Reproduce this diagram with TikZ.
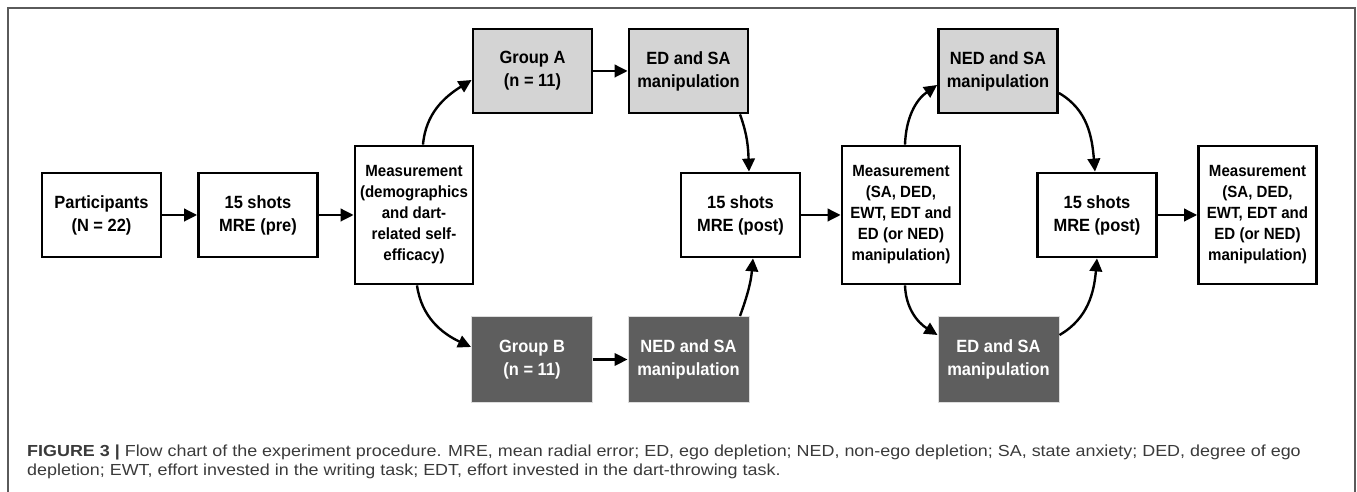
\documentclass[tikz,border=0pt]{standalone}
\usepackage{fontspec}
\setmainfont{Liberation Sans}
\newfontfamily\boxfont{Liberation Sans}[FakeStretch=0.93]
\newfontfamily\capfont{Liberation Sans}[FakeStretch=1.12]
\usetikzlibrary{arrows.meta}
\definecolor{lightbox}{HTML}{D4D4D4}
\definecolor{darkbox}{HTML}{5E5E5E}
\definecolor{framegray}{HTML}{5A5A5A}
\definecolor{captext}{HTML}{3A3A3A}
\tikzset{
  base/.style={draw=black, line width=2.8pt, align=center, inner sep=0pt,
    font=\boxfont\bfseries\fontsize{17.7}{23}\selectfont, text=black,
    minimum width=119pt, minimum height=84pt},
  plain/.style={base, fill=white},
  lightb/.style={base, fill=lightbox},
  darkb/.style={base, fill=darkbox, draw=lightbox!80!white, line width=1pt, text=white,
    minimum width=121pt, minimum height=86pt},
  meas/.style={base, fill=white, minimum height=138pt, minimum width=118pt,
    font=\boxfont\bfseries\fontsize{16.2}{21}\selectfont},
  conn/.style={line width=2.4pt, -{Triangle[length=13pt,width=12.5pt]}},
  captxt/.style={anchor=base west, inner sep=0pt, text=captext, font=\capfont\fontsize{16}{19}\selectfont},
}
\begin{document}
\begin{tikzpicture}[x=1pt,y=1pt]
\useasboundingbox (0,0) rectangle (1357,492);
% frame
\draw[framegray, line width=1.3pt] (8,-2) -- (8,484) -- (1355,484) -- (1355,-2);

\node[plain] (P) at (101.5,277) {Participants\\(N = 22)};
\node[plain] (pre) at (258,277) {15 shots\\MRE (pre)};
\node[meas] (M1) at (414,277) {Measurement\\(demographics\\and dart-\\related self-\\efficacy)};
\node[lightb] (GA) at (532.5,421) {Group A\\(n = 11)};
\node[lightb] (EDA) at (688.5,421) {ED and SA\\manipulation};
\node[darkb] (GB) at (532,132.5) {Group B\\(n = 11)};
\node[darkb] (NEDB) at (688.5,132.5) {NED and SA\\manipulation};
\node[plain] (post1) at (740.5,277) {15 shots\\MRE (post)};
\node[meas] (M2) at (901,277) {Measurement\\(SA, DED,\\EWT, EDT and\\ED (or NED)\\manipulation)};
\node[lightb] (NEDA) at (998,421) {NED and SA\\manipulation};
\node[darkb] (EDB) at (998.5,132.5) {ED and SA\\manipulation};
\node[plain] (post2) at (1097,277) {15 shots\\MRE (post)};
\node[meas] (M3) at (1257.5,277) {Measurement\\(SA, DED,\\EWT, EDT and\\ED (or NED)\\manipulation)};

\draw[conn] (P) -- (pre);
\draw[conn] (pre) -- (M1);
\draw[conn] ([xshift=9pt]M1.north) to[out=85,in=212] ([yshift=-9pt]GA.west);
\draw[conn] ([xshift=3pt]M1.south) to[out=-82,in=155] ([yshift=12.5pt]GB.west);
\draw[conn] (GA) -- (EDA);
\draw[conn] (GB) -- (NEDB);
\draw[conn] ([xshift=51.5pt]EDA.south) to[out=-70,in=92] ([xshift=8.5pt]post1.north);
\draw[conn] ([xshift=51.5pt]NEDB.north) to[out=70,in=-95] ([xshift=12.5pt]post1.south);
\draw[conn] (post1) -- (M2);
\draw[conn] ([xshift=4pt]M2.north) to[out=88,in=215] ([yshift=-14pt]NEDA.west);
\draw[conn] ([xshift=4pt]M2.south) to[out=-88,in=148] ([yshift=24.5pt]EDB.west);
\draw[conn] ([yshift=-22pt]NEDA.east) to[out=-30,in=95] ([xshift=-2pt]post2.north);
\draw[conn] ([yshift=24.5pt]EDB.east) to[out=30,in=-95] (post2.south);
\draw[conn] (post2) -- (M3);

\node[captxt] (cap1) at (27,35)
  {\textbf{FIGURE 3} \textbf{|} Flow chart of the experiment procedure. MRE, mean radial error; ED, ego depletion; NED, non-ego depletion; SA, state anxiety; DED, degree of ego};
\node[captxt] (cap2) at (27,16)
  {depletion; EWT, effort invested in the writing task; EDT, effort invested in the dart-throwing task.};
\end{tikzpicture}
\end{document}
